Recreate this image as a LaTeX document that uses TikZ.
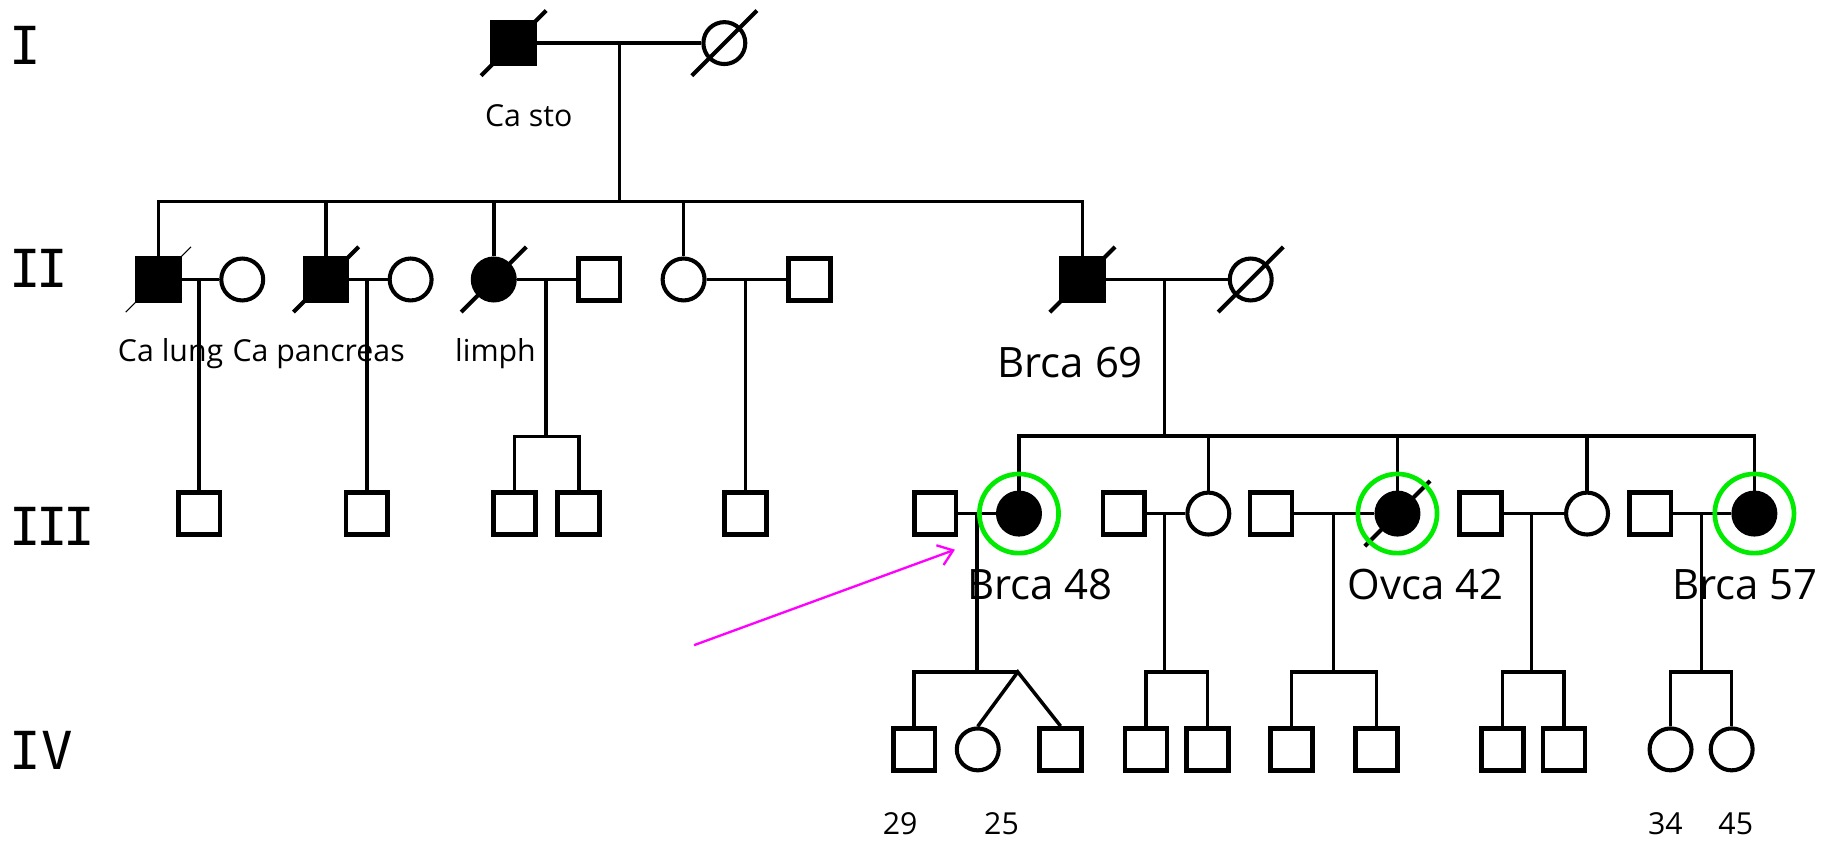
\documentclass[tikz,border=0pt]{standalone}
\usepackage{fontspec}
\setmainfont{Open Sans}
\newfontfamily\romfont{DejaVu Sans Mono}
\usetikzlibrary{arrows.meta}
\definecolor{ringgreen}{RGB}{0,235,0}
\definecolor{arrowmag}{RGB}{255,0,255}
\newcommand{\deadslash}[2]{\draw[line width=#2] ([shift={(-28,28)}]#1.center) -- ([shift={(28,-28)}]#1.center);}
\begin{document}
\begin{tikzpicture}[x=1pt,y=-1pt,
  male/.style={draw,rectangle,minimum size=36pt,inner sep=0pt,line width=4pt},
  female/.style={draw,circle,minimum size=36pt,inner sep=0pt,line width=3.5pt},
  aff/.style={fill=black},
  conn/.style={line width=3pt},
  ring/.style={draw=ringgreen,line width=4pt,circle,minimum size=68pt,inner sep=0pt},
  lab/.style={anchor=base,inner sep=0pt,font=\fontsize{26}{28}\selectfont},
  biglab/.style={anchor=base,inner sep=0pt,font=\fontsize{36}{38}\selectfont},
  numlab/.style={anchor=base,inner sep=0pt,font=\fontsize{26}{28}\selectfont},
  gen/.style={anchor=base west,inner sep=0pt,font=\romfont\fontsize{45}{47}\selectfont},
  arr/.style={draw=arrowmag,line width=2pt,-{Straight Barb[length=12pt,width=18pt,line width=2pt]}}
]
\useasboundingbox (0,0) rectangle (1568,725);

% generation labels
\node[gen] (gI) at (8,55) {I};
\node[gen] (gII) at (8,247) {I\kern-4pt I};
\node[gen] (gIII) at (8,468) {I\kern-4pt I\kern-4pt I};
\node[gen] (gIV) at (8,661) {IV};

% generation I
\node[male,aff] (I1) at (441,37) {};
\node[female] (I2) at (622,37) {};
% generation II
\node[male,aff] (II1) at (136,240) {};
\node[female] (II2) at (208,240) {};
\node[male,aff] (II3) at (280,240) {};
\node[female] (II4) at (352.6,240) {};
\node[female,aff] (II5) at (424,240) {};
\node[male] (II6) at (514.5,240) {};
\node[female] (II7) at (587,240) {};
\node[male] (II8) at (695,240) {};
\node[male,aff] (II9) at (929.5,240) {};
\node[female] (II10) at (1074,240) {};
% generation III
\node[male] (III1) at (171,441) {};
\node[male] (III2) at (315,441) {};
\node[male] (III3) at (442,441) {};
\node[male] (III4) at (497,441) {};
\node[male] (III5) at (640,441) {};
\node[male] (III6) at (803,441) {};
\node[female,aff] (III7) at (875,441) {};
\node[male] (III8) at (965,441) {};
\node[female] (III9) at (1037.6,441) {};
\node[male] (III10) at (1091.5,441) {};
\node[female,aff] (III11) at (1200,441) {};
\node[male] (III12) at (1271.5,441) {};
\node[female] (III13) at (1362.8,441) {};
\node[male] (III14) at (1417,441) {};
\node[female,aff] (III15) at (1506.5,441) {};
% generation IV
\node[male] (IV1) at (785,643.5) {};
\node[female] (IV2) at (839.6,643.5) {};
\node[male] (IV3) at (910.7,643.5) {};
\node[male] (IV4) at (984,643.5) {};
\node[male] (IV5) at (1037,643.5) {};
\node[male] (IV6) at (1109,643.5) {};
\node[male] (IV7) at (1182,643.5) {};
\node[male] (IV8) at (1290,643.5) {};
\node[male] (IV9) at (1343,643.5) {};
\node[female] (IV10) at (1434.5,643.5) {};
\node[female] (IV11) at (1487,643.5) {};

% deceased slashes
\deadslash{I1}{3.5pt}
\deadslash{I2}{3.5pt}
\deadslash{II1}{1pt}
\deadslash{II3}{3.5pt}
\deadslash{II5}{3.5pt}
\deadslash{II9}{3.5pt}
\deadslash{II10}{3.5pt}
\deadslash{III11}{3.5pt}

% labels
\node[lab] (tI1) at (454,109) {Ca sto};
\node[lab] (tII1) at (146.5,310) {Ca lung};
\node[lab] (tII3) at (273.6,310) {Ca pancreas};
\node[lab] (tII5) at (425.5,310) {limph};
\node[biglab] (tII9) at (919,324) {Brca 69};
\node[biglab] (tIII7) at (893,515) {Brca 48};
\node[biglab] (tIII11) at (1224,515) {Ovca 42};
\node[biglab] (tIII15) at (1498.5,515) {Brca 57};
\node[numlab] (tIV1) at (773,717) {29};
\node[numlab] (tIV2) at (860,717) {25};
\node[numlab] (tIV10) at (1430,717) {34};
\node[numlab] (tIV11) at (1490.5,717) {45};

% coordinates of unions and sibships
\coordinate (mI) at (532,37);
\coordinate (sI) at (532,173);
\coordinate (mA) at (171,240);
\coordinate (mB) at (315,240);
\coordinate (mC) at (469,240);
\coordinate (sC) at (469,375);
\coordinate (mD) at (640,240);
\coordinate (mE) at (1000,240);
\coordinate (sE) at (1000,374.4);
\coordinate (m1) at (839,441);
\coordinate (s1) at (839,577);
\coordinate (t1) at (874,577);
\coordinate (m2) at (1000,441);
\coordinate (s2) at (1000,577);
\coordinate (m3) at (1145,441);
\coordinate (s3) at (1145,577);
\coordinate (m4) at (1315,441);
\coordinate (s4) at (1315,577);
\coordinate (m5) at (1461,441);
\coordinate (s5) at (1461,577);

% generation I union and sibship
\draw[conn] (I1) -- (I2);
\draw[conn] (mI) -- (sI);
\draw[conn] (II1.north) |- (sI) -| (II9.north);
\draw[conn] (II3.north) -- (II3.north |- sI);
\draw[conn] (II5.north) -- (II5.north |- sI);
\draw[conn] (II7.north) -- (II7.north |- sI);

% generation II unions
\draw[conn] (II1) -- (II2);
\draw[conn] (mA) -- (III1.north);
\draw[conn] (II3) -- (II4);
\draw[conn] (mB) -- (III2.north);
\draw[conn] (II5) -- (II6);
\draw[conn] (mC) -- (sC);
\draw[conn] (III3.north) |- (sC) -| (III4.north);
\draw[conn] (II7) -- (II8);
\draw[conn] (mD) -- (III5.north);
\draw[conn] (II9) -- (II10);
\draw[conn] (mE) -- (sE);
\draw[conn] (III7.north) |- (sE) -| (III15.north);
\draw[conn] (III9.north) -- (III9.north |- sE);
\draw[conn] (III11.north) -- (III11.north |- sE);
\draw[conn] (III13.north) -- (III13.north |- sE);

% generation III unions
\draw[conn] (III6) -- (III7);
\draw[conn] (m1) -- (s1);
\draw[conn] (IV1.north) |- (t1);
\draw[conn] (IV2.north) -- (t1) -- (IV3.north);
\draw[conn] (III8) -- (III9);
\draw[conn] (m2) -- (s2);
\draw[conn] (IV4.north) |- (s2) -| (IV5.north);
\draw[conn] (III10) -- (III11);
\draw[conn] (m3) -- (s3);
\draw[conn] (IV6.north) |- (s3) -| (IV7.north);
\draw[conn] (III12) -- (III13);
\draw[conn] (m4) -- (s4);
\draw[conn] (IV8.north) |- (s4) -| (IV9.north);
\draw[conn] (III14) -- (III15);
\draw[conn] (m5) -- (s5);
\draw[conn] (IV10.north) |- (s5) -| (IV11.north);

% green rings
\node[ring] (r7) at (III7) {};
\node[ring] (r11) at (III11) {};
\node[ring] (r15) at (III15) {};

% proband arrow
\coordinate (aS) at (596,554);
\coordinate (aE) at (820,472);
\draw[arr] (aS) -- (aE);
\end{tikzpicture}
\end{document}
